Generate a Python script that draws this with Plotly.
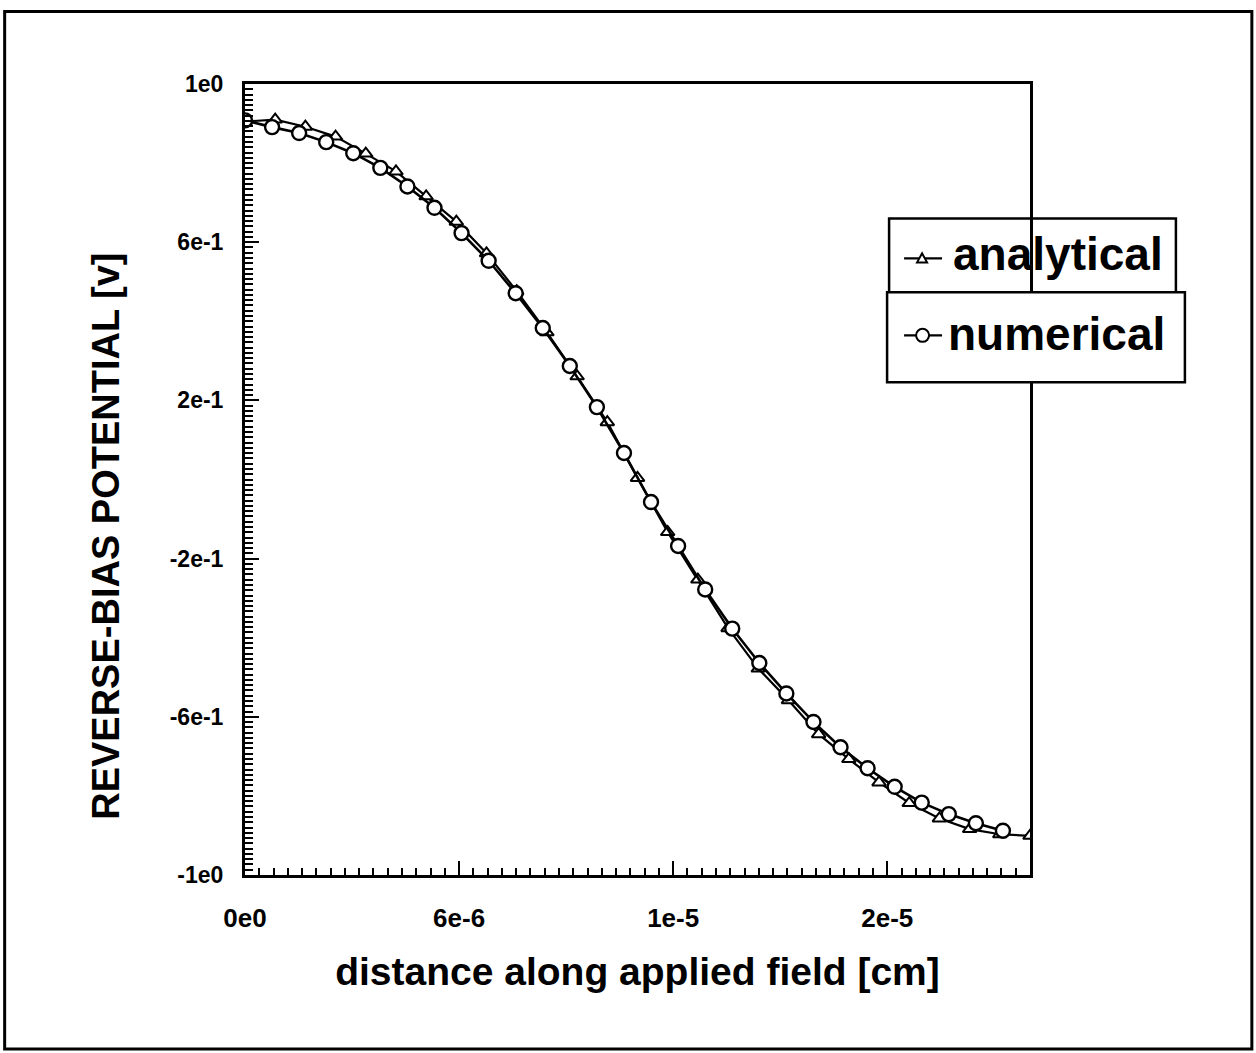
import plotly.graph_objects as go

# ---------------- data ----------------
x_analytical = [0.0, 8.46e-7, 1.692e-6, 2.538e-6, 3.385e-6, 4.231e-6, 5.077e-6, 5.923e-6,
                6.769e-6, 7.615e-6, 8.462e-6, 9.308e-6, 1.0154e-5, 1.1e-5, 1.1846e-5,
                1.2692e-5, 1.3538e-5, 1.4385e-5, 1.5231e-5, 1.6077e-5, 1.6923e-5,
                1.7769e-5, 1.8615e-5, 1.9462e-5, 2.0308e-5, 2.1154e-5, 2.2e-5]
y_analytical = [0.905, 0.910, 0.892, 0.867, 0.824, 0.779, 0.716, 0.652, 0.572, 0.476,
                0.372, 0.261, 0.145, 0.004, -0.133, -0.253, -0.376, -0.478, -0.558,
                -0.644, -0.707, -0.766, -0.818, -0.857, -0.884, -0.897, -0.901]

x_numerical = [0.0, 7.59e-7, 1.517e-6, 2.276e-6, 3.034e-6, 3.793e-6, 4.552e-6, 5.310e-6,
               6.069e-6, 6.828e-6, 7.586e-6, 8.345e-6, 9.103e-6, 9.862e-6, 1.0621e-5,
               1.1379e-5, 1.2138e-5, 1.2897e-5, 1.3655e-5, 1.4414e-5, 1.5172e-5,
               1.5931e-5, 1.6690e-5, 1.7448e-5, 1.8207e-5, 1.8966e-5, 1.9724e-5,
               2.0483e-5, 2.1241e-5]
y_numerical = [0.908, 0.891, 0.876, 0.853, 0.825, 0.788, 0.741, 0.687, 0.623, 0.553,
               0.471, 0.383, 0.287, 0.183, 0.067, -0.057, -0.168, -0.278, -0.377,
               -0.464, -0.541, -0.613, -0.677, -0.730, -0.777, -0.817, -0.846,
               -0.869, -0.888]

x_tickvals = [0.0, 6e-6, 1.2e-5, 1.8e-5]
x_ticktext = ["0e0", "6e-6", "1e-5", "2e-5"]
y_tickvals = [-1.0, -0.6, -0.2, 0.2, 0.6, 1.0]
y_ticktext = ["-1e0", "-6e-1", "-2e-1", "2e-1", "6e-1", "1e0"]

series_names = ["analytical", "numerical"]
x_title = "distance along applied field [cm]"
y_title = "REVERSE-BIAS POTENTIAL [v]"

X_RANGE = [0, 2.2e-5]
Y_RANGE = [-1, 1]

# ---------------- layout helpers (pixel -> paper) ----------------
W, H = 1256, 1053
L, R, T, B = 244.5, 1030.0, 83.5, 875.0


def px(v):
    return (v - L) / (R - L)


def py(v):
    return (B - v) / (B - T)


FONT = "Liberation Sans, Arial, sans-serif"

fig = go.Figure()
# empty trace that carries the minor-tick overlay axes
fig.add_trace(go.Scatter(x=[], y=[], xaxis="x2", yaxis="y2", showlegend=False,
                         hoverinfo="skip"))
fig.add_trace(go.Scatter(
    x=x_analytical, y=y_analytical, mode="lines+markers", name=series_names[0],
    line=dict(color="black", width=2.2),
    marker=dict(symbol="triangle-up", size=12, color="white",
                line=dict(color="black", width=2)),
    showlegend=False,
))
fig.add_trace(go.Scatter(
    x=x_numerical, y=y_numerical, mode="lines+markers", name=series_names[1],
    line=dict(color="black", width=2.6),
    marker=dict(symbol="circle", size=14, color="white",
                line=dict(color="black", width=2.4)),
    showlegend=False,
))

shapes = []
# outer frame
shapes.append(dict(type="rect", xref="paper", yref="paper",
                   x0=px(4), x1=px(1252), y0=py(1049), y1=py(11),
                   line=dict(color="black", width=3), layer="above"))
# legend boxes
shapes.append(dict(type="rect", xref="paper", yref="paper",
                   x0=px(889), x1=px(1176), y0=py(292), y1=py(218),
                   line=dict(color="black", width=2.5), layer="above"))
shapes.append(dict(type="rect", xref="paper", yref="paper",
                   x0=px(887), x1=px(1185), y0=py(382), y1=py(292),
                   fillcolor="white",
                   line=dict(color="black", width=2.5), layer="above"))
# legend samples
shapes.append(dict(type="line", xref="paper", yref="paper",
                   x0=px(904), x1=px(942), y0=py(258), y1=py(258),
                   line=dict(color="black", width=2.2), layer="above"))
tri = "M {:.5f} {:.5f} L {:.5f} {:.5f} L {:.5f} {:.5f} Z".format(
    px(917), py(262), px(927), py(262), px(922), py(253))
shapes.append(dict(type="path", xref="paper", yref="paper", path=tri,
                   fillcolor="white", line=dict(color="black", width=2), layer="above"))
shapes.append(dict(type="line", xref="paper", yref="paper",
                   x0=px(904), x1=px(942), y0=py(335), y1=py(335),
                   line=dict(color="black", width=2.2), layer="above"))
shapes.append(dict(type="circle", xref="paper", yref="paper",
                   x0=px(916), x1=px(929), y0=py(341.5), y1=py(328.5),
                   fillcolor="white", line=dict(color="black", width=2), layer="above"))

annotations = [
    dict(text=series_names[0], xref="paper", yref="paper", x=px(951), y=py(254),
         xanchor="left", yanchor="middle", showarrow=False,
         font=dict(family=FONT, size=46, color="black", weight="bold")),
    dict(text=series_names[1], xref="paper", yref="paper", x=px(946), y=py(334),
         xanchor="left", yanchor="middle", showarrow=False,
         font=dict(family=FONT, size=46, color="black", weight="bold")),
    dict(text=y_title, xref="paper", yref="paper", x=px(106), y=py(536),
         xanchor="center", yanchor="middle", textangle=-90, showarrow=False,
         font=dict(family=FONT, size=38, color="black", weight="bold")),
]

fig.update_layout(
    width=W, height=H,
    margin=dict(l=L, r=W - R, t=T, b=H - B, autoexpand=False),
    paper_bgcolor="white", plot_bgcolor="white",
    shapes=shapes, annotations=annotations,
    showlegend=False,
    xaxis=dict(
        range=X_RANGE, tickmode="array", tickvals=x_tickvals, ticktext=x_ticktext,
        ticks="inside", ticklen=14, tickwidth=2, tickcolor="black",
        showline=True, linecolor="black", linewidth=3, mirror=True,
        showgrid=False, zeroline=False,
        tickfont=dict(family=FONT, size=26, color="black", weight="bold"),
        ticklabelstandoff=18,
        title=dict(text=x_title, standoff=26,
                   font=dict(family=FONT, size=39, color="black", weight="bold")),
    ),
    yaxis=dict(
        range=Y_RANGE, tickmode="array", tickvals=y_tickvals, ticktext=y_ticktext,
        ticks="inside", ticklen=14, tickwidth=2, tickcolor="black",
        showline=True, linecolor="black", linewidth=3, mirror=True,
        showgrid=False, zeroline=False,
        tickfont=dict(family=FONT, size=23, color="black", weight="bold"),
        ticklabelstandoff=14,
    ),
    # overlay axes carrying the dense minor ticks
    xaxis2=dict(
        range=X_RANGE, overlaying="x", anchor="y", side="bottom",
        tickmode="linear", tick0=0, dtick=4e-7,
        ticks="inside", ticklen=7, tickwidth=2, tickcolor="black",
        showticklabels=False, showgrid=False, zeroline=False, showline=False,
    ),
    yaxis2=dict(
        range=Y_RANGE, overlaying="y", anchor="x", side="left",
        tickmode="linear", tick0=-1, dtick=0.4 / 30,
        ticks="inside", ticklen=8, tickwidth=2, tickcolor="black",
        showticklabels=False, showgrid=False, zeroline=False, showline=False,
    ),
)

fig.write_html("out.html")
